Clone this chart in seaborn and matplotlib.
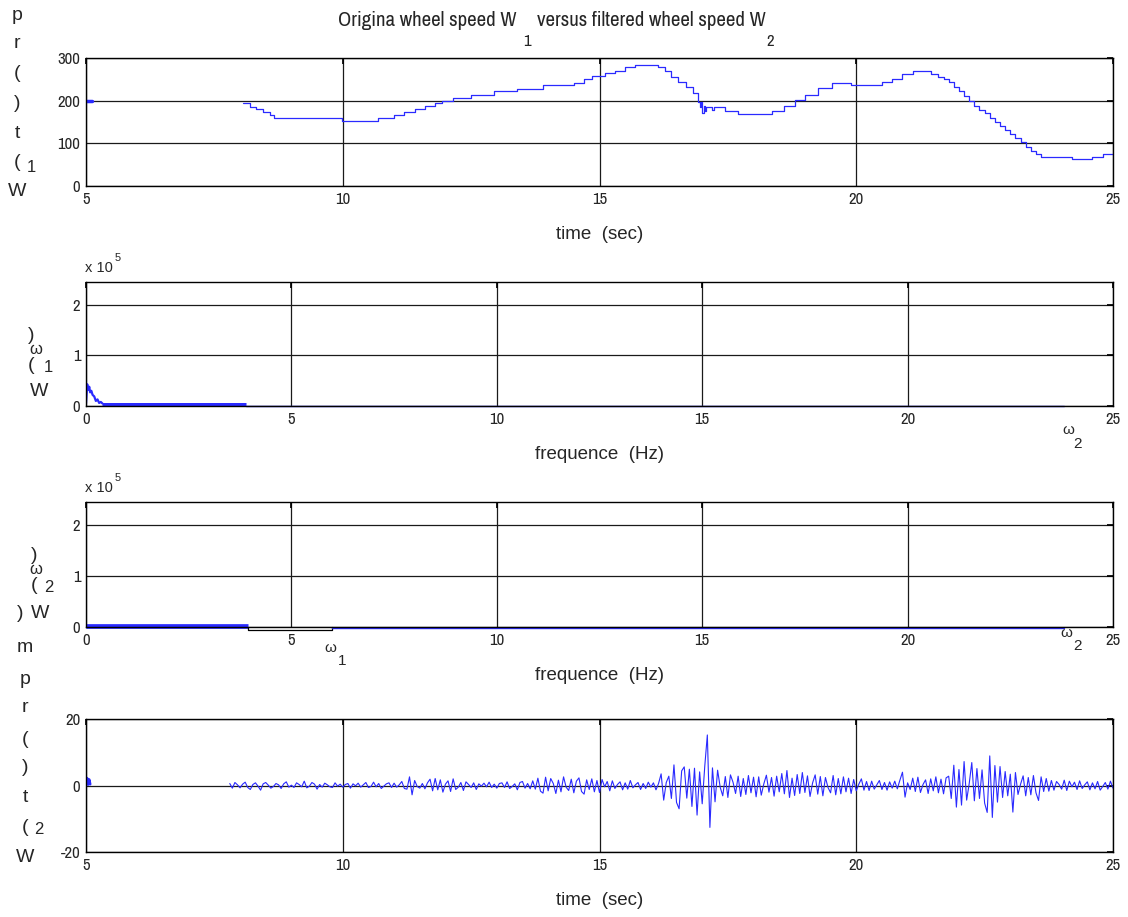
import numpy as np
import matplotlib
matplotlib.use("Agg")
import matplotlib.pyplot as plt
import seaborn as sns

# ---- data ----
# wheel speed W1 (steps: start time, value)
w1_head_t = [5.0, 5.12]
w1_head_v = [199, 199]
w1_t = [8.06, 8.2, 8.32, 8.45, 8.58, 8.66, 9.98, 10.68, 11.0, 11.2, 11.4, 11.6, 11.8,
        11.93, 12.15, 12.5, 12.95, 13.4, 13.9, 14.5, 14.7, 14.85, 15.1, 15.3, 15.5,
        15.7, 16.14, 16.27, 16.4, 16.53, 16.69, 16.82, 16.92, 16.96, 16.98, 17.0,
        17.03, 17.05, 17.07, 17.2, 17.23, 17.26, 17.45, 17.7, 18.35, 18.6, 18.8, 19.0,
        19.26, 19.52, 19.9, 20.5, 20.7, 20.9, 21.1, 21.45, 21.6, 21.7, 21.8, 21.9,
        22.0, 22.1, 22.2, 22.3, 22.4, 22.5, 22.6, 22.7, 22.8, 22.9, 23.0, 23.1, 23.2,
        23.3, 23.4, 23.5, 23.6, 24.2, 24.6, 24.8, 25.0]
w1_v = [194, 186, 180, 173, 166, 160, 153, 159, 166, 173, 180, 187, 194,
        200, 206, 214, 222, 228, 236, 242, 250, 258, 264, 270, 278,
        284, 278, 270, 256, 244, 233, 217, 198, 185, 196, 171,
        188, 176, 184, 179, 186, 184, 176, 169, 176, 187, 201, 213,
        229, 242, 237, 243, 250, 262, 270, 262, 256, 250, 243, 232,
        222, 210, 200, 188, 178, 170, 160, 151, 141, 131, 121, 112, 102,
        92, 82, 74, 67, 63, 68, 75, 75]

# spectrum of W1 (values in units of 1e5)
spec1_f = [0.0, 0.03, 0.05, 0.08, 0.1, 0.13, 0.16, 0.2, 0.24, 0.28, 0.32, 0.36, 0.4]
spec1_v = [0.05, 0.43, 0.32, 0.38, 0.27, 0.30, 0.22, 0.19, 0.10, 0.13, 0.06, 0.08, 0.05]
spec1_band_f = [0.4, 3.9]
spec1_band_v = [0.025, 0.025]
spec1_tail_f = [3.9, 23.8]
spec1_tail_v = [0.0, 0.0]

# spectrum of W2
spec2_band_f = [0.0, 3.95]
spec2_band_v = [0.01, 0.01]
spec2_box_f = [3.95, 6.0]
spec2_box_depth = 0.065
spec2_tail_f = [6.0, 23.8]
spec2_tail_v = [-0.01, -0.01]

# filtered wheel speed W2 (sampled every 0.05 s from 7.8 s)
w2_head_t = [5.0, 5.02, 5.04, 5.06, 5.08]
w2_head_v = [0.6, 2.2, 0.3, 1.8, 0.4]
w2_v = [0.6, -0.8, 0.9, 0.2,
        -0.7, 0.4, 1.0, -0.6, -1.2, 0.3, 0.8, -0.2, -1.4, 0.5, 0.9, 0.1, -0.8, -0.3, 0.6, 0.2, -0.9, 0.5, 1.1, -0.5,
        0.1, -0.6, 0.8, 0.3, -0.4, 1.3, -0.7, -0.2, 0.9, 0.4, -1.1, 0.3, -0.5, 0.7, 0.2, -0.4, -0.6, 0.8, -0.2, 0.4,
        -0.5, 0.3, 0.6, -0.8, 0.5, -0.1, 0.7, -0.5, 0.2, 0.9, -0.6, -0.3, 1.0, -0.4, 0.6, -0.9, -0.2, 0.5, 0.8, -0.6,
        0.7, -0.5, 0.2, 1.2, -0.9, -1.1, 2.6, -2.8, 1.5, -0.3, -0.8, 0.6, -1.0, 0.8, 1.9, -1.6, 2.1, -1.3, 1.7, -2.0,
        0.4, 1.4, -1.8, 2.0, -1.2, -0.5, 0.9, -1.5, 1.1, 0.3, -0.6, 0.8, -1.2, 0.5, -0.2, 0.7, -0.4, 1.0, -0.6, 0.4,
        -0.8, 0.6, 0.8, -0.6, 1.1, -0.9, -0.3, 0.5, -1.3, 0.9, 1.2, -0.8, 0.6, -1.0, 1.4, -1.1, 2.2, -1.7, -2.3, 2.5,
        -1.6, 2.1, 0.6, -2.4, 1.6, -1.9, 2.6, -0.5, -1.5, 1.9, -2.2, 1.3, 2.3, -1.8, -2.6, 1.7, -1.2, 2.0, -1.9, 1.5,
        -2.1, 1.8, -0.4, 1.2, -1.6, 1.4, -0.9, 0.3, 1.1, -1.3, 0.8, -1.1, 1.5, -0.7, 0.2, 0.9, -1.2, 0.6, -0.9, 1.0,
        -0.5, 0.8, -1.3, 0.6, 3.5, -4.4, 0.9, 2.8, -3.9, 6.2, -5.1, -7.0, 4.4, 5.6, -3.8, 4.9, -6.3, 5.2, -8.9, 4.1,
        -5.5, 5.8, 15.2, -12.6, 5.3, -4.9, 4.6, -0.5, -3.1, 2.7, -3.6, 3.2, 1.0, -2.4, 2.8, -3.3, 2.1, -2.7, 3.0, -2.2,
        2.5, -3.4, 2.6, -2.9, 0.5, 3.1, -2.0, 2.4, -3.2, 2.8, -1.9, 3.6, -2.5, 4.5, -3.6, 2.2, -3.0, 3.3, -2.4, 3.9,
        -2.1, 2.9, -3.3, 0.8, 3.2, -2.6, 2.7, -3.1, 2.4, -0.6, -2.2, 3.0, -2.8, 2.1, -2.5, 2.6, -1.9, 2.2, -2.4, 1.8,
        -1.6, 0.4, 2.0, -1.4, 1.2, -1.5, 1.3, -1.1, 0.2, 1.5, -1.2, 0.9, -1.4, 1.1, -0.8, 1.3, -1.0, 1.6, 4.0, -3.5,
        0.8, -1.2, 2.2, -1.8, 2.5, -2.1, 0.3, 1.7, -2.4, 2.0, -1.6, 2.6, -2.2, 1.9, -2.5, 2.3, 2.8, -3.9, 6.1, -6.5,
        4.8, -5.9, 7.2, -4.4, 0.6, 6.9, -4.6, 5.1, -3.9, 4.7, -5.3, -8.1, 8.9, -9.6, 6.0, -5.0, 5.7, -3.6, 4.2, -3.1,
        3.4, -8.0, 3.9, -2.7, 0.4, 2.9, -3.1, 2.4, -2.8, 3.0, -2.2, -4.5, 2.6, -1.8, 2.1, -1.7, 1.5, -1.4, 1.2, 0.3,
        -1.1, 1.6, -1.5, 1.3, -0.4, 1.0, -1.2, 1.4, -0.9, 0.2, 1.1, -1.3, 0.8, -1.0, 1.2, -1.4, -0.3, 0.9, -1.1, 1.3,
        -0.8]
w2_t = np.linspace(7.8, 25.0, len(w2_v))

time_ticks = [5, 10, 15, 20, 25]
freq_ticks = [0, 5, 10, 15, 20, 25]
spec_ticks = [0, 1, 2]

sns.set_theme(style="white")
plt.rcParams['font.family'] = ['Liberation Sans', 'DejaVu Sans']
plt.rcParams['axes.unicode_minus'] = False
# narrow face for title and tick numbers, falls back to Liberation Sans
NARROW = ['Archivo Narrow', 'Liberation Sans']
BLUE = '#2a2aff'
W, H = 1128, 917

fig = plt.figure(figsize=(W / 100, H / 100), dpi=100)


def px(x, y):
    return x / W, 1 - y / H


def add_ax(top, bottom):
    ax = fig.add_axes([86 / W, 1 - bottom / H, (1113 - 86) / W, (bottom - top) / H])
    for s in ax.spines.values():
        s.set_color('black')
        s.set_linewidth(1.0)
    ax.grid(True, color='0.1', linewidth=0.9)
    ax.tick_params(direction='in', top=True, right=True, length=4, color='black',
                   labelsize=12, pad=4)
    return ax


def ftext(x, y, s, size=14, **kw):
    fig.text(*px(x, y), s, fontsize=size, ha='center', va='center', **kw)


# ---- panel 1: original wheel speed ----
ax1 = add_ax(58, 186)
sns.lineplot(x=w1_head_t, y=w1_head_v, ax=ax1, color=BLUE, lw=2.5, estimator=None, sort=False)
sns.lineplot(x=w1_t, y=w1_v, ax=ax1, color=BLUE, lw=0.9, estimator=None, sort=False,
             drawstyle='steps-post')
ax1.set_xlim(5, 25)
ax1.set_ylim(0, 300)
ax1.set_xticks(time_ticks)
ax1.set_yticks([0, 100, 200, 300])
ax1.set_xlabel('time  (sec)', fontsize=13.5, labelpad=14)

# ---- panel 2: spectrum of W1 ----
ax2 = add_ax(282, 406)
sns.lineplot(x=spec1_f, y=np.array(spec1_v) * 1e5, ax=ax2, color=BLUE, lw=1.6,
             estimator=None, sort=False)
sns.lineplot(x=spec1_band_f, y=np.array(spec1_band_v) * 1e5, ax=ax2, color=BLUE, lw=3.6,
             estimator=None, sort=False, solid_capstyle='butt')
sns.lineplot(x=spec1_tail_f, y=np.array(spec1_tail_v) * 1e5, ax=ax2, color=BLUE, lw=1.0,
             estimator=None, sort=False, clip_on=False)
ax2.set_xlim(0, 25)
ax2.set_ylim(0, 2.45e5)
ax2.set_xticks(freq_ticks)
ax2.set_yticks([v * 1e5 for v in spec_ticks], [str(v) for v in spec_ticks])
ax2.set_xlabel('frequence  (Hz)', fontsize=13.5, labelpad=14)

# ---- panel 3: spectrum of W2 ----
ax3 = add_ax(502, 627)
sns.lineplot(x=spec2_band_f, y=np.array(spec2_band_v) * 1e5, ax=ax3, color=BLUE, lw=3.4,
             estimator=None, sort=False, clip_on=False, solid_capstyle='butt')
box_x = [spec2_box_f[0], spec2_box_f[0], spec2_box_f[1], spec2_box_f[1]]
box_y = [0, -spec2_box_depth * 1e5, -spec2_box_depth * 1e5, 0]
ax3.plot(box_x, box_y, color='black', lw=0.9, clip_on=False)
sns.lineplot(x=spec2_tail_f, y=np.array(spec2_tail_v) * 1e5, ax=ax3, color=BLUE, lw=1.0,
             estimator=None, sort=False, clip_on=False)
ax3.set_xlim(0, 25)
ax3.set_ylim(0, 2.45e5)
ax3.set_xticks(freq_ticks)
ax3.set_yticks([v * 1e5 for v in spec_ticks], [str(v) for v in spec_ticks])
ax3.set_xlabel('frequence  (Hz)', fontsize=13.5, labelpad=14)

# ---- panel 4: filtered wheel speed ----
ax4 = add_ax(719, 852)
sns.lineplot(x=w2_head_t, y=w2_head_v, ax=ax4, color=BLUE, lw=2.0, estimator=None, sort=False)
sns.lineplot(x=w2_t, y=w2_v, ax=ax4, color=BLUE, lw=0.8, estimator=None, sort=False)
ax4.set_xlim(5, 25)
ax4.set_ylim(-20, 20)
ax4.set_xticks(time_ticks)
ax4.set_yticks([-20, 0, 20])
ax4.set_xlabel('time  (sec)', fontsize=13.5, labelpad=14)

for ax in (ax1, ax2, ax3, ax4):
    for lab in ax.get_xticklabels() + ax.get_yticklabels():
        lab.set_fontfamily(NARROW)

# ---- title pieces ----
fig.text(*px(517, 20), 'Origina wheel speed W', fontsize=15, family=NARROW, ha='right', va='center')
fig.text(*px(527, 42), '1', fontsize=12, family=NARROW, ha='center', va='center')
fig.text(*px(537, 20), 'versus filtered wheel speed W', fontsize=15, family=NARROW, ha='left', va='center')
fig.text(*px(770, 42), '2', fontsize=12, family=NARROW, ha='center', va='center')

# ---- scattered y-label characters ----
for ch, y in zip(['p', 'r', '(', ')', 't', '(', 'W'], [15, 43, 73, 103, 133, 163, 192]):
    ftext(17, y, ch)
ftext(31, 168, '1', size=12)

ftext(31, 335, ')')
ftext(36, 350, 'ω', size=12)
ftext(31, 365, '(')
ftext(48, 368, '1', size=12)
ftext(39, 392, 'W')

ftext(34, 555, ')')
ftext(36, 570, 'ω', size=12)
ftext(34, 585, '(')
ftext(49, 588, '2', size=12)
ftext(20, 613, ')')
ftext(40, 613, 'W')
for ch, y in zip(['m', 'p', 'r', '(', ')', 't', '(', 'W'], [648, 680, 708, 740, 768, 797, 827, 858]):
    ftext(25, y, ch)
ftext(39, 830, '2', size=12)

# ---- exponent labels and omega marks ----
for y0 in (268, 488):
    ftext(99, y0, 'x 10', size=10.5)
    ftext(118, y0 - 10, '5', size=8)
ftext(1068, 430, 'ω', size=11)
ftext(1078, 444, '2', size=11)
ftext(1066, 633, 'ω', size=11)
ftext(1077, 646, '2', size=11)
ftext(330, 648, 'ω', size=11)
ftext(342, 661, '1', size=11)

fig.savefig('out.png', dpi=100)
